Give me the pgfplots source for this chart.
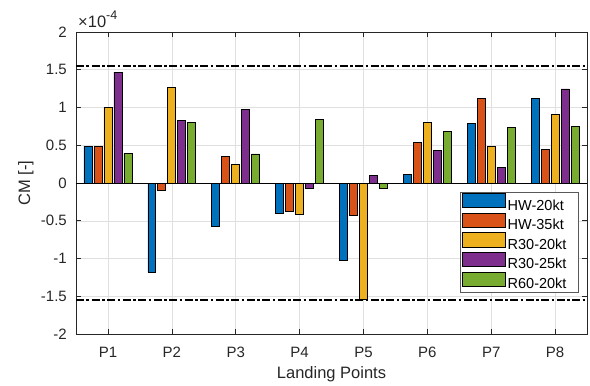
\documentclass[border=0pt]{standalone}
\usepackage{fontspec}
\setmainfont{Liberation Sans}
\usepackage{pgfplots}
\usepackage{pgfplotstable}
\pgfplotsset{compat=1.18}
\definecolor{c1}{rgb}{0,0.447,0.741}
\definecolor{c2}{rgb}{0.85,0.325,0.098}
\definecolor{c3}{rgb}{0.929,0.694,0.125}
\definecolor{c4}{rgb}{0.494,0.184,0.556}
\definecolor{c5}{rgb}{0.466,0.674,0.188}
\definecolor{axgray}{rgb}{0.15,0.15,0.15}
\pgfplotstableread{
x hw20 hw35 rA rB rC
1 0.490 0.482 1.004 1.467 0.396
2 -1.185 -0.102 1.269 0.833 0.797
3 -0.573 0.357 0.242 0.978 0.385
4 -0.396 -0.378 -0.410 -0.066 0.841
5 -1.018 -0.423 -1.535 0.100 -0.075
6 0.119 0.533 0.797 0.427 0.678
7 0.789 1.115 0.489 0.203 0.740
8 1.115 0.449 0.912 1.247 0.744
}\datatable
\begin{document}
\begin{tikzpicture}
\begin{axis}[
  width=511pt, height=302pt, scale only axis,
  clip mode=individual,
  scaled y ticks=false,
  xmin=0.5, xmax=8.5, ymin=-2, ymax=2,
  xtick={1,2,3,4,5,6,7,8},
  xticklabels={P1,P2,P3,P4,P5,P6,P7,P8},
  ytick={-2,-1.5,-1,-0.5,0,0.5,1,1.5,2},
  yticklabels={-2,-1.5,-1,-0.5,0,0.5,1,1.5,2},
  ybar, bar width=0.125,
  grid=major,
  major grid style={color=black!12, line width=0.5pt},
  axis line style={color=axgray, line width=0.6pt},
  tick style={color=axgray, line width=0.6pt},
  tick align=inside, major tick length=5pt,
  ticklabel style={font=\fontsize{15}{18}\selectfont, text=axgray},
  xticklabel style={anchor=base, yshift=-23pt},
  yticklabel style={xshift=-5.7pt},
  xlabel={Landing Points}, ylabel={CM [-]},
  label style={font=\fontsize{16.5}{20}\selectfont, text=axgray},
  xlabel style={at={(axis description cs:0.5,-0.1457)}, anchor=base},
  ylabel style={at={(axis description cs:-0.090,0.5)}, anchor=base},
  legend cell align=left,
  legend image code/.code={\draw[#1] (0pt,-2.3pt) rectangle (43pt,11.8pt);},
  legend style={at={(0.984,0.136)}, anchor=south east,
    draw=black!65, line width=0.6pt, fill=white,
    font=\fontsize{14.5}{16}\selectfont, text=black,
    inner xsep=2pt, inner ysep=1.5pt, row sep=0pt,
    nodes={inner xsep=2pt, inner ysep=1.4pt}},
]
\addplot[fill=c1, draw=black, line width=0.7pt, bar shift=-0.3125] table[x=x, y=hw20] {\datatable};
\addplot[fill=c2, draw=black, line width=0.7pt, bar shift=-0.15625] table[x=x, y=hw35] {\datatable};
\addplot[fill=c3, draw=black, line width=0.7pt, bar shift=0] table[x=x, y=rA] {\datatable};
\addplot[fill=c4, draw=black, line width=0.7pt, bar shift=0.15625] table[x=x, y=rB] {\datatable};
\addplot[fill=c5, draw=black, line width=0.7pt, bar shift=0.3125] table[x=x, y=rC] {\datatable};
\legend{HW-20kt\hspace*{8pt},HW-35kt\hspace*{8pt},R30-20kt\hspace*{8pt},R30-25kt\hspace*{8pt},R60-20kt\hspace*{8pt}}
\addplot[sharp plot, black, line width=0.8pt, forget plot] coordinates {(0.5,0) (8.5,0)};
\addplot[sharp plot, black, line width=2pt, dash pattern=on 8pt off 2.5pt on 2.5pt off 2.5pt, forget plot] coordinates {(0.5,1.555) (8.5,1.555)};
\addplot[sharp plot, black, line width=2pt, dash pattern=on 8pt off 2.5pt on 2.5pt off 2.5pt, forget plot] coordinates {(0.5,-1.555) (8.5,-1.555)};
\node[anchor=base west, inner sep=0pt, text=axgray] at (rel axis cs:0,1) [xshift=2pt, yshift=4pt] {\fontsize{16.5}{18}\selectfont ×10\raisebox{0.5em}{\fontsize{12.5}{13}\selectfont -4}};
\end{axis}
\path (current axis.south west) ++(-76pt,-51pt) coordinate (bl);
\path (current axis.north east) ++(3pt,32pt) coordinate (tr);
\pgfresetboundingbox
\useasboundingbox (bl) rectangle (tr);
\end{tikzpicture}
\end{document}
